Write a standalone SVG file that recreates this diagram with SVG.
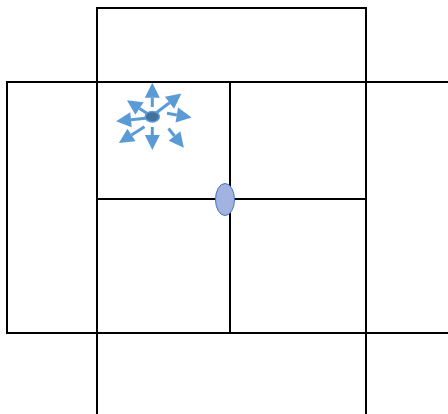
<svg xmlns="http://www.w3.org/2000/svg" width="448" height="414" viewBox="0 0 448 414">
<style>
.g{fill:none;stroke:#000;stroke-width:2}
.a{fill:none;stroke:#5b9bd5;stroke-width:3;marker-end:url(#h)}
</style>
<defs>
<marker id="h" markerUnits="userSpaceOnUse" markerWidth="17" markerHeight="17" refX="1" refY="8.500" orient="auto"><path d="M1 1L16 8.500L1 16Z" fill="#5b9bd5"/></marker>
</defs>
<rect width="448" height="414" fill="#fff"/>
<g id="connectors">
<path class="g" d="M97 414V8H366V414"/>
<path class="g" d="M448 82H7V333H448"/>
<path class="g" d="M230 82V333"/>
<path class="g" d="M97 199H366"/>
<path class="a" d="M152.300 107V97.700"/>
<path class="a" d="M156 113L169.500 102.700"/>
<path class="a" d="M167 113.300L176.800 115"/>
<path class="a" d="M168.500 128.500L174.500 136"/>
<path class="a" d="M152.300 127V135"/>
<path class="a" d="M144.500 126.700L131.500 135"/>
<path class="a" d="M148 118L131 119.700"/>
<path class="a" d="M148 114L139.500 108.500"/>
</g>
<g id="center-node"><ellipse cx="152.300" cy="116.700" rx="7" ry="5.300" fill="#41719c" stroke="#5b9bd5" stroke-width="1.500"/></g>
<g id="oval-node"><ellipse cx="225" cy="199.500" rx="9.500" ry="16" fill="#a3b3e0" stroke="#4472c4" stroke-width="1"/></g>
</svg>
